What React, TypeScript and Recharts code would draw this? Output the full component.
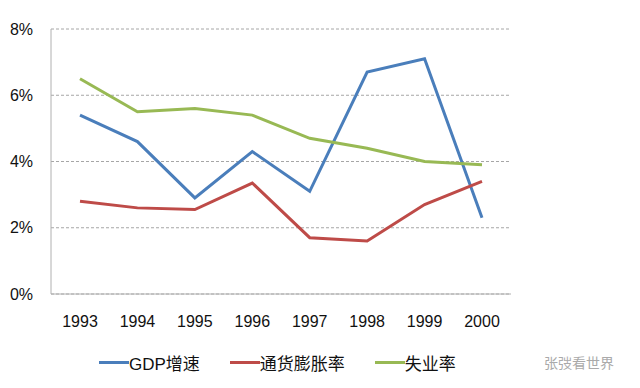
import { LineChart, Line, XAxis, YAxis, CartesianGrid, Legend } from "recharts"

const years = ["1993", "1994", "1995", "1996", "1997", "1998", "1999", "2000"]
const gdp = [5.4, 4.6, 2.9, 4.3, 3.1, 6.7, 7.1, 2.3]
const inflation = [2.8, 2.6, 2.55, 3.35, 1.7, 1.6, 2.7, 3.4]
const unemployment = [6.5, 5.5, 5.6, 5.4, 4.7, 4.4, 4.0, 3.9]
const yTicks = [0, 2, 4, 6, 8]

const SERIES = [
  { key: "gdp", name: "GDP增速", color: "#4A7EBB" },
  { key: "cpi", name: "通货膨胀率", color: "#BE4B48" },
  { key: "unemp", name: "失业率", color: "#98B954" },
]

const FONT = "'Liberation Sans', 'Noto Sans CJK SC', sans-serif"

const data = years.map((y, i) => ({
  year: y,
  gdp: gdp[i],
  cpi: inflation[i],
  unemp: unemployment[i],
}))

function LegendBox() {
  return (
    <>
      <div style={{ position: "absolute", left: 99, top: 350, display: "flex", alignItems: "center", fontFamily: FONT, fontSize: 17, color: "#111", whiteSpace: "nowrap" }}>
        {SERIES.map((s, i) => (
          <div key={s.key} style={{ display: "flex", alignItems: "center", marginRight: i < 2 ? 30 : 0 }}>
            <div style={{ width: 30, height: 3, background: s.color }} />
            <span>{s.name}</span>
          </div>
        ))}
      </div>
      {/* watermark */}
      <span style={{ position: "absolute", left: 544, top: 352, fontFamily: FONT, fontSize: 14, color: "#aaa" }}>张弢看世界</span>
    </>
  )
}

export default function App() {
  return (
    <div style={{ position: "absolute", left: 0, top: 0, width: 640, height: 388, background: "#fff" }}>
      <LineChart width={640} height={388} data={data} margin={{ top: 29, right: 129, left: 0, bottom: 64 }}>
        <CartesianGrid vertical={false} stroke="#a6a6a6" strokeDasharray="3 2" />
        <XAxis
          dataKey="year"
          padding={{ left: 29, right: 29 }}
          tickLine={false}
          tickSize={0}
          tickMargin={22}
          stroke="#b0b0b0"
          tick={{ fontSize: 16, fill: "#111", fontFamily: FONT }}
        />
        <YAxis
          domain={[0, 8]}
          ticks={yTicks}
          width={51}
          tickLine={false}
          tickSize={0}
          tickMargin={18}
          stroke="#b0b0b0"
          tickFormatter={(v) => `${v}%`}
          tick={{ fontSize: 16, fill: "#111", fontFamily: FONT }}
        />
        <Legend content={() => null} />
        {SERIES.map((s) => (
          <Line
            key={s.key}
            dataKey={s.key}
            name={s.name}
            type="linear"
            stroke={s.color}
            strokeWidth={3}
            dot={false}
            isAnimationActive={false}
          />
        ))}
      </LineChart>
      <LegendBox />
    </div>
  )
}
